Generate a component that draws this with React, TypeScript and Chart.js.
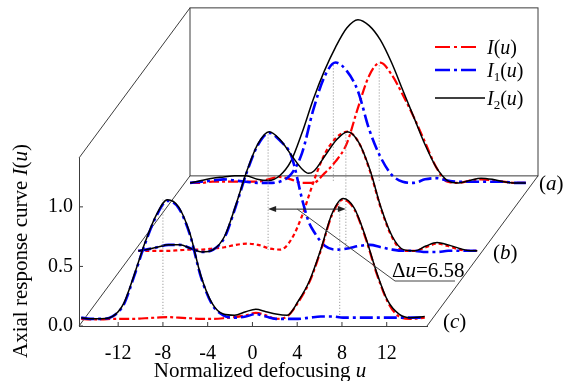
import React, { useEffect, useRef } from "react";
import { Chart, registerables } from "chart.js";

Chart.register(...registerables);

// ---------- data ----------
const X_TICKS = [-12, -8, -4, 0, 4, 8, 12];
const Y_TICKS = [0, 0.5, 1.0];

// panel (a): back
const U_A = [-15, -14, -13, -12, -11, -10, -9, -8, -7, -6, -5, -4, -3, -2, -1, 0, 1, 2, 3, 4, 5, 6, 7, 8, 9, 10, 11, 12, 13, 14, 15];
const A_I = [0.05, 0.05, 0.06, 0.06, 0.06, 0.06, 0.06, 0.08, 0.1, 0.08, 0.05, 0.05, 0.13, 0.23, 0.38, 0.68, 0.95, 1.06, 0.96, 0.79, 0.6, 0.39, 0.18, 0.06, 0.05, 0.07, 0.08, 0.07, 0.06, 0.05, 0.05];
const A_I1 = [0.05, 0.06, 0.07, 0.08, 0.07, 0.06, 0.05, 0.05, 0.06, 0.12, 0.3, 0.66, 0.94, 1.06, 0.99, 0.82, 0.5, 0.27, 0.12, 0.06, 0.05, 0.08, 0.09, 0.07, 0.06, 0.06, 0.06, 0.06, 0.06, 0.05, 0.05];
const A_I2 = [0.05, 0.07, 0.09, 0.1, 0.11, 0.11, 0.08, 0.07, 0.11, 0.23, 0.47, 0.75, 0.99, 1.19, 1.35, 1.42, 1.37, 1.25, 1.06, 0.83, 0.6, 0.37, 0.18, 0.07, 0.05, 0.07, 0.09, 0.08, 0.06, 0.05, 0.05];
const A_DROP_U = [-2.2, 1.9];
const A_DROP_V = [1.06, 1.06];

// panel (b): middle
const U_B = [-15.2, -14.5, -13.5, -12.5, -11.5, -10.5, -9.5, -8.5, -7.5, -6.5, -5.5, -4.5, -3.5, -2.5, -1.5, -0.5, 0, 0.5, 1.5, 2.5, 3.5, 4.5, 5.5, 6.5, 7.5, 8.5, 9.5, 10.5, 11.5, 12.5, 13.5, 14.5, 15.1];
const B_I = [0.06, 0.06, 0.06, 0.06, 0.065, 0.07, 0.07, 0.08, 0.09, 0.11, 0.12, 0.11, 0.08, 0.07, 0.16, 0.37, 0.51, 0.65, 0.88, 1.01, 1.06, 0.97, 0.73, 0.41, 0.17, 0.06, 0.06, 0.09, 0.12, 0.1, 0.07, 0.06, 0.06];
const B_I1 = [0.06, 0.07, 0.09, 0.11, 0.11, 0.08, 0.05, 0.07, 0.17, 0.43, 0.72, 0.95, 1.05, 0.98, 0.85, 0.47, 0.31, 0.22, 0.1, 0.07, 0.08, 0.1, 0.11, 0.09, 0.07, 0.06, 0.06, 0.05, 0.05, 0.06, 0.06, 0.06, 0.06];
const B_I2 = [0.06, 0.07, 0.09, 0.11, 0.11, 0.08, 0.05, 0.07, 0.18, 0.44, 0.73, 0.96, 1.06, 0.99, 0.86, 0.74, 0.71, 0.73, 0.86, 0.99, 1.06, 0.97, 0.74, 0.42, 0.18, 0.07, 0.06, 0.1, 0.13, 0.11, 0.08, 0.06, 0.06];
const B_DROP_U = [-3.6, 3.35];
const B_DROP_V = [1.06, 1.06];

// panel (c): front
const U_C = [-15.3, -14.5, -13.5, -12.5, -11.5, -10.6, -9.6, -8.6, -7.6, -6.6, -5.6, -4.6, -3.6, -2.6, -1.6, -0.6, 0.3, 1.2, 2.1, 3.1, 4.1, 5.1, 6.1, 7.1, 8.1, 9.1, 10.1, 11.1, 12.1, 13.1, 14.1, 15.4];
const C_I = [0.06, 0.055, 0.055, 0.06, 0.06, 0.06, 0.065, 0.07, 0.075, 0.07, 0.065, 0.06, 0.06, 0.065, 0.075, 0.09, 0.11, 0.09, 0.06, 0.08, 0.2, 0.37, 0.63, 0.93, 1.06, 0.98, 0.74, 0.44, 0.2, 0.08, 0.06, 0.07];
const C_I1 = [0.07, 0.06, 0.06, 0.08, 0.18, 0.41, 0.69, 0.92, 1.05, 0.99, 0.77, 0.41, 0.18, 0.09, 0.07, 0.08, 0.1, 0.08, 0.06, 0.06, 0.06, 0.07, 0.08, 0.08, 0.07, 0.07, 0.07, 0.07, 0.07, 0.07, 0.07, 0.07];
const C_I2 = [0.07, 0.06, 0.06, 0.08, 0.19, 0.42, 0.7, 0.93, 1.06, 1.0, 0.78, 0.42, 0.19, 0.1, 0.09, 0.12, 0.14, 0.12, 0.1, 0.09, 0.21, 0.38, 0.64, 0.94, 1.07, 0.99, 0.75, 0.45, 0.21, 0.1, 0.07, 0.08];
const C_DROP_U = [-8.0, 7.8];
const C_DROP_V = [1.06, 1.06];

const DROP_BOTTOM = 0.06;
const DELTA_U_TEXT = "=6.58";

// ---------- layout / style ----------
const FONT = '"Liberation Serif", "Times New Roman", Times, serif';
const RED = "#ff0000";
const BLUE = "#0000ff";
const BLACK = "#000000";
const X_MIN = -15.5;
const X_MAX = 15.6;
const Y_MIN = 0;
const Y_MAX = 1.41;
const FRAME_SHIFT = { du: 9.92, dv: 1.26 };

const PANELS = [
  { u: U_A, I: A_I, I1: A_I1, I2: A_I2, dropU: A_DROP_U, dropV: A_DROP_V, du: 9.43, dv: 1.151, redDash: [10, 3, 3, 3] },
  { u: U_B, I: B_I, I1: B_I1, I2: B_I2, dropU: B_DROP_U, dropV: B_DROP_V, du: 5.0, dv: 0.571, redDash: [4, 3] },
  { u: U_C, I: C_I, I1: C_I1, I2: C_I2, dropU: C_DROP_U, dropV: C_DROP_V, du: 0, dv: 0, redDash: [10, 3, 3, 3] },
];
const ARROW_PANEL = 1;
const ARROW_V = 0.41;

type Run = { t: string; it?: boolean; sub?: boolean };

function fontFor(r: Run, size: number) {
  const s = r.sub ? Math.round(size * 0.65) : size;
  return `${r.it ? "italic " : ""}${s}px ${FONT}`;
}

function drawRuns(ctx: CanvasRenderingContext2D, runs: Run[], x: number, y: number, size: number, align: "left" | "center") {
  let w = 0;
  for (const r of runs) {
    ctx.font = fontFor(r, size);
    w += ctx.measureText(r.t).width;
  }
  let cx = align === "center" ? x - w / 2 : x;
  ctx.textAlign = "left";
  ctx.textBaseline = "alphabetic";
  for (const r of runs) {
    ctx.font = fontFor(r, size);
    ctx.fillText(r.t, cx, y + (r.sub ? size * 0.22 : 0));
    cx += ctx.measureText(r.t).width;
  }
}

function buildDatasets() {
  const list: any[] = [];
  const common = { pointRadius: 0, fill: false, clip: false as const, cubicInterpolationMode: "monotone" as const };
  PANELS.forEach((p) => {
    p.dropU.forEach((du, i) => {
      list.push({
        ...common,
        data: [
          { x: du + p.du, y: p.dropV[i] + p.dv },
          { x: du + p.du, y: DROP_BOTTOM + p.dv },
        ],
        borderColor: "#8a8a8a",
        borderWidth: 1,
        borderDash: [1, 2],
      });
    });
    const pts = (arr: number[]) => p.u.map((u, i) => ({ x: u + p.du, y: arr[i] + p.dv }));
    list.push({ ...common, data: pts(p.I), borderColor: RED, borderWidth: 2.2, borderDash: p.redDash });
    list.push({ ...common, data: pts(p.I1), borderColor: BLUE, borderWidth: 2.6, borderDash: [13, 4, 3, 4] });
    list.push({ ...common, data: pts(p.I2), borderColor: BLACK, borderWidth: 1.5 });
  });
  const n = list.length;
  list.forEach((d, i) => (d.order = n - i));
  return list;
}

const decoPlugin = {
  id: "deco",
  beforeDatasetsDraw(chart: any) {
    const { ctx } = chart;
    const x = chart.scales.x;
    const y = chart.scales.y;
    const P = (u: number, v: number): [number, number] => [x.getPixelForValue(u), y.getPixelForValue(v)];
    const seg = (a: [number, number], b: [number, number]) => {
      ctx.beginPath();
      ctx.moveTo(a[0], a[1]);
      ctx.lineTo(b[0], b[1]);
      ctx.stroke();
    };
    const xmin = x.min, xmax = x.max, ymax = y.max;
    const S = FRAME_SHIFT;
    ctx.save();
    ctx.strokeStyle = "#3c3c3c";
    ctx.lineWidth = 1;
    seg(P(xmin, 0), P(xmin + S.du, S.dv));
    seg(P(xmin, ymax), P(xmin + S.du, ymax + S.dv));
    seg(P(xmax, 0), P(xmax + S.du, S.dv));
    const bl = P(xmin + S.du, S.dv);
    const tr = P(xmax + S.du, ymax + S.dv);
    ctx.strokeRect(bl[0], tr[1], tr[0] - bl[0], bl[1] - tr[1]);
    // inward tick marks
    x.ticks.forEach((t: any) => {
      const px = x.getPixelForValue(t.value);
      seg([px, y.bottom], [px, y.bottom - 4]);
    });
    y.ticks.forEach((t: any) => {
      const py = y.getPixelForValue(t.value);
      seg([x.left, py], [x.left + 4, py]);
    });
    ctx.restore();
  },
  afterDatasetsDraw(chart: any) {
    const { ctx } = chart;
    const x = chart.scales.x;
    const y = chart.scales.y;
    const P = (u: number, v: number): [number, number] => [x.getPixelForValue(u), y.getPixelForValue(v)];
    ctx.save();
    // delta-u arrow between the (b) peaks
    const ap = PANELS[ARROW_PANEL];
    const a0 = P(ap.dropU[0] + ap.du, ARROW_V + ap.dv);
    const a1 = P(ap.dropU[1] + ap.du, ARROW_V + ap.dv);
    ctx.strokeStyle = "#222";
    ctx.fillStyle = "#222";
    ctx.lineWidth = 1;
    ctx.beginPath();
    ctx.moveTo(a0[0] + 4, a0[1]);
    ctx.lineTo(a1[0] - 4, a1[1]);
    ctx.stroke();
    const head = (tx: number, ty: number, dir: number) => {
      ctx.beginPath();
      ctx.moveTo(tx, ty);
      ctx.lineTo(tx - dir * 8, ty - 3);
      ctx.lineTo(tx - dir * 8, ty + 3);
      ctx.closePath();
      ctx.fill();
    };
    head(a0[0], a0[1], -1);
    head(a1[0], a1[1], 1);
    // leader line to the label
    const lead0 = P(-1.0 + ap.du, ARROW_V + ap.dv);
    ctx.strokeStyle = "#444";
    ctx.beginPath();
    ctx.moveTo(lead0[0], lead0[1]);
    ctx.lineTo(395, 281);
    ctx.lineTo(455, 281);
    ctx.stroke();

    ctx.fillStyle = "#000";
    drawRuns(ctx, [{ t: "\u0394" }, { t: "u", it: true }, { t: DELTA_U_TEXT }], 392, 277, 21, "left");

    // panel labels
    drawRuns(ctx, [{ t: "(" }, { t: "a", it: true }, { t: ")" }], 539, 190, 21, "left");
    drawRuns(ctx, [{ t: "(" }, { t: "b", it: true }, { t: ")" }], 493, 259, 21, "left");
    drawRuns(ctx, [{ t: "(" }, { t: "c", it: true }, { t: ")" }], 443, 328, 21, "left");

    // legend
    const lx0 = 435;
    const items = [
      { color: RED, dash: [15, 4, 3, 4], w: 2.2, y: 47, end: 477, sub: "" },
      { color: BLUE, dash: [15, 4, 3, 4], w: 2.6, y: 70, end: 477, sub: "1" },
      { color: BLACK, dash: [], w: 1.5, y: 98, end: 485, sub: "2" },
    ];
    items.forEach((it) => {
      ctx.save();
      ctx.strokeStyle = it.color;
      ctx.lineWidth = it.w;
      ctx.setLineDash(it.dash);
      ctx.beginPath();
      ctx.moveTo(lx0, it.y);
      ctx.lineTo(it.end, it.y);
      ctx.stroke();
      ctx.restore();
      const runs: Run[] = [{ t: "I", it: true }];
      if (it.sub) runs.push({ t: it.sub, sub: true });
      runs.push({ t: "(" }, { t: "u", it: true }, { t: ")" });
      ctx.fillStyle = "#000";
      drawRuns(ctx, runs, 487, it.y + 7, 20, "left");
    });

    // axis titles
    drawRuns(ctx, [{ t: "Normalized defocusing " }, { t: "u", it: true }], 260, 377, 21, "center");
    ctx.save();
    ctx.translate(27, 251);
    ctx.rotate(-Math.PI / 2);
    drawRuns(ctx, [{ t: "Axial response curve " }, { t: "I", it: true }, { t: "(" }, { t: "u", it: true }, { t: ")" }], 0, 0, 21, "center");
    ctx.restore();
    ctx.restore();
  },
};

export default function App() {
  const ref = useRef<HTMLCanvasElement>(null);
  useEffect(() => {
    const chart = new Chart(ref.current as HTMLCanvasElement, {
      type: "line",
      data: { datasets: buildDatasets() },
      options: {
        animation: false,
        responsive: false,
        events: [],
        layout: { padding: { left: 0, top: 158, right: 136, bottom: 0 } },
        plugins: { legend: { display: false }, tooltip: { enabled: false } },
        scales: {
          x: {
            type: "linear",
            bounds: "data",
            afterDataLimits: (s: any) => {
              s.min = X_MIN;
              s.max = X_MAX;
            },
            afterBuildTicks: (s: any) => {
              s.ticks = X_TICKS.map((value) => ({ value }));
              s.min = X_MIN;
              s.max = X_MAX;
            },
            afterFit: (s: any) => {
              s.height = 55;
            },
            grid: { display: false, drawTicks: false },
            border: { display: true, color: "#3c3c3c", width: 1 },
            ticks: {
              autoSkip: false,
              maxRotation: 0,
              padding: 16,
              color: "#000",
              font: { family: FONT, size: 20 },
              callback: (v: any) => String(v),
            },
          },
          y: {
            type: "linear",
            min: Y_MIN,
            max: Y_MAX,
            afterBuildTicks: (s: any) => {
              s.ticks = Y_TICKS.map((value) => ({ value }));
            },
            afterFit: (s: any) => {
              s.width = 79;
            },
            grid: { display: false, drawTicks: false },
            border: { display: true, color: "#3c3c3c", width: 1 },
            ticks: {
              padding: 6,
              color: "#000",
              font: { family: FONT, size: 20 },
              callback: (v: any) => Number(v).toFixed(1),
            },
          },
        },
      },
      plugins: [decoPlugin],
    } as any);
    return () => chart.destroy();
  }, []);
  return (
    <div style={{ position: "absolute", left: 0, top: 0, width: 563, height: 381, background: "#fff" }}>
      <canvas ref={ref} width={563} height={381} style={{ display: "block" }} />
    </div>
  );
}
